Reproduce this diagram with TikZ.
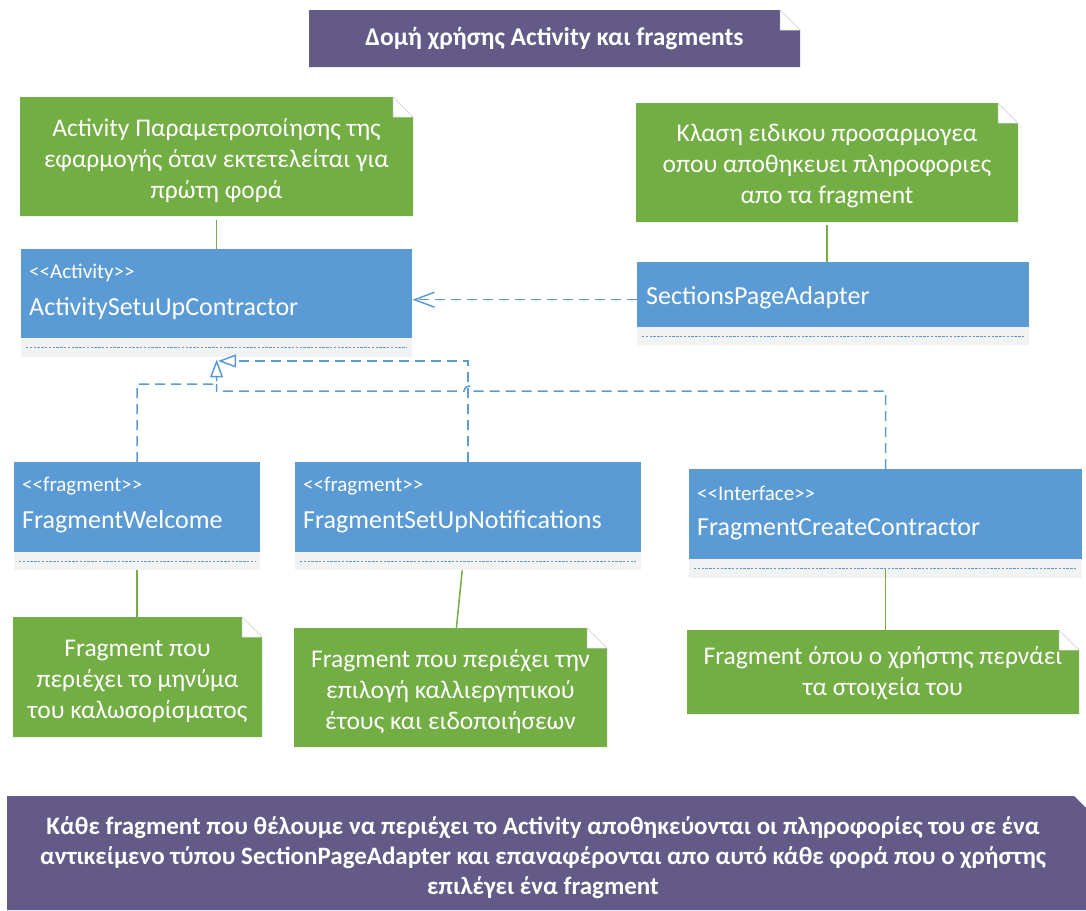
\documentclass[tikz,border=0pt]{standalone}
\usepackage{fontspec}
\setmainfont{Carlito}
\usetikzlibrary{arrows.meta}
\definecolor{umlblue}{RGB}{91,155,213}
\definecolor{notegreen}{RGB}{114,174,68}
\definecolor{titlepurple}{RGB}{99,90,136}
\definecolor{compgray}{RGB}{242,242,242}
\tikzset{
  classbox/.style={fill=umlblue, inner sep=0, anchor=north west},
  compbox/.style={fill=compgray, inner sep=0, anchor=north west},
  dotline/.style={umlblue, line width=0.9pt, dash pattern=on 2.4pt off 1.4pt},
  stereo/.style={anchor=west, text=white, font=\fontsize{21}{25}\selectfont, inner sep=0},
  cname/.style={anchor=west, text=white, font=\fontsize{26}{30}\selectfont, inner sep=0},
  notetext/.style={text=white, align=center, font=\fontsize{25.5}{31}\selectfont, inner sep=0},
  titletext/.style={text=white, align=center, font=\bfseries\fontsize{25.5}{30}\selectfont, inner sep=0},
  foldstyle/.style={fill=white, draw=black!18, line width=0.5pt},
  greenline/.style={notegreen, line width=1.5pt},
  realize/.style={umlblue, line width=1.5pt, dash pattern=on 10pt off 6pt},
  gentip/.style={-{Triangle[open, length=18pt, width=13pt]}},
  deptip/.style={-{Straight Barb[length=20pt, width=15pt]}},
}
% name, x1, y1, x2, y2, fold, colour, text style, text
\newcommand{\foldbox}[9]{%
  \fill[#7] (#2,#3) -- (#4-#6,#3) -- (#4,#3+#6) -- (#4,#5) -- (#2,#5) -- cycle;
  \filldraw[foldstyle] (#4-#6,#3) -- (#4-#6,#3+#6) -- (#4,#3+#6) -- cycle;
  \node[#8, minimum width={#4-#2}, minimum height={#5-#3}] (#1) at ({(#2+#4)/2},{(#3+#5)/2}) {#9};
}
% name, x1, y1, x2, y2 (blue bottom), y3 (compartment bottom), stereotype, name
\newcommand{\umlclass}[8]{%
  \node[classbox, minimum width={#4-#2}, minimum height={#5-#3}] (#1) at (#2,#3) {};
  \node[compbox, minimum width={#4-#2}, minimum height={#6-#5}] (#1-c) at (#2,#5) {};
  \draw[dotline] ([xshift=5pt]#1-c.west) -- ([xshift=-5pt]#1-c.east);
  \if\relax\detokenize{#7}\relax
    \node[cname] (#1-n) at ([xshift=9pt,yshift=-3pt]#1.west) {#8};
  \else
    \node[stereo] (#1-s) at (#2+8,#3+24) {#7};
    \node[cname] (#1-n) at (#2+8,#3+60) {#8};
  \fi
}
\begin{document}
\begin{tikzpicture}[x=1pt, y=-1pt]
\useasboundingbox (0,0) rectangle (1086,910);

% title
\foldbox{title}{309}{10}{800}{67}{20}{titlepurple}{titletext}{Δομή χρήσης Activity και fragments}

% notes
\foldbox{n1}{20}{97}{413}{216}{20}{notegreen}{notetext, yshift=-4pt}{Activity Παραμετροποίησης της\\εφαρμογής όταν εκτετελείται για\\πρώτη φορά}
\foldbox{n2}{636}{103}{1018}{222}{20}{notegreen}{notetext, yshift=-3pt}{Κλαση ειδικου προσαρμογεα\\οπου αποθηκευει πληροφοριες\\απο τα fragment}
\foldbox{nw}{13}{617}{262}{737}{20}{notegreen}{notetext, yshift=-4pt}{Fragment που\\περιέχει το μηνύμα\\του καλωσορίσματος}
\foldbox{nn}{294}{628}{607}{747}{20}{notegreen}{notetext, yshift=-4pt}{Fragment που περιέχει την\\επιλογή καλλιεργητικού\\έτους και ειδοποιήσεων}
\foldbox{nc}{687}{630}{1079}{714}{20}{notegreen}{notetext, yshift=-1pt}{Fragment όπου ο χρήστης περνάει\\τα στοιχεία του}

% classes
\umlclass{act}{21}{249}{412}{338}{357}{<{}<Activity>{}>}{ActivitySetuUpContractor}
\umlclass{spa}{637}{262}{1029}{327}{345}{}{SectionsPageAdapter}
\umlclass{fw}{14}{462}{260}{552}{570}{<{}<fragment>{}>}{FragmentWelcome}
\umlclass{fsn}{295}{462}{641}{552}{570}{<{}<fragment>{}>}{FragmentSetUpNotifications}
\umlclass{fcc}{689}{469}{1082}{559}{578}{<{}<Interface>{}>}{FragmentCreateContractor}

% note links
\draw[greenline] (n1.south) -- (n1.south |- act.north);
\draw[greenline] (n2.south) -- (n2.south |- spa.north);
\draw[greenline] (fw-c.south) -- (fw-c.south |- nw.north);
\draw[greenline] ([xshift=-6pt]fsn-c.south) -- ([xshift=5.5pt]nn.north);
\draw[greenline] (fcc-c.center) -- (fcc-c.center |- nc.north);

% dependency
\coordinate (depy) at ([yshift=-5pt]spa.west);
\draw[realize, deptip] (depy) -- (depy -| act.east);

% realizations
\coordinate (trunk) at (216.5,391);
\draw[realize] (fcc.north) |- (474,391) arc[start angle=0, end angle=-180, radius=5] -- (trunk) -- (216.5,384);
\draw[realize, gentip] (fw.north) |- (216.5,384) -- ([yshift=-2pt]act-c.south);
\draw[realize, gentip] (fsn.north) |- (218,361);

% bottom summary
\fill[titlepurple] (7,796) -- (1074,796) -- (1086,808) -- (1086,910) -- (7,910) -- cycle;
\node[titletext, font=\bfseries\fontsize{25}{30}\selectfont] (summary) at (543,858) {Κάθε fragment που θέλουμε να περιέχει το Activity αποθηκεύονται οι πληροφορίες του σε ένα\\αντικείμενο τύπου SectionPageAdapter και επαναφέρονται απο αυτό κάθε φορά που ο χρήστης\\επιλέγει ένα fragment};
\end{tikzpicture}
\end{document}
